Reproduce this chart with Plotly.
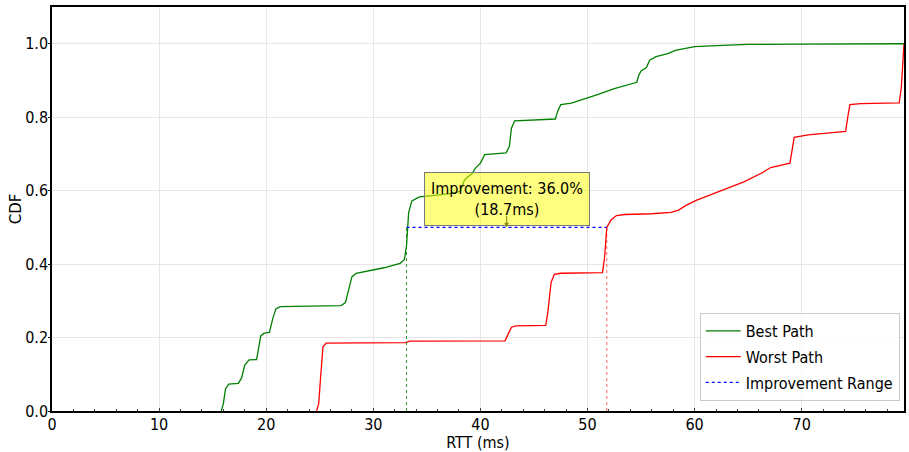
import plotly.graph_objects as go

# ---- data ----
best_x = [15.8, 16.0, 16.2, 16.5, 17.4, 17.7, 18.0, 18.4, 19.1, 19.3, 19.5, 19.8, 20.3, 20.6, 20.9, 21.3,
          24.0, 27.0, 27.4, 27.7, 28.0, 28.4, 29.5, 31.0, 32.5, 32.9, 33.1, 33.3, 33.6, 34.3, 36.0, 37.5,
          38.1, 38.5, 38.8, 39.2, 39.5, 40.0, 40.4, 42.4, 42.7, 42.9, 43.2, 45.0, 47.0, 47.2, 47.5, 48.5,
          49.5, 51.0, 52.5, 54.6, 54.8, 55.0, 55.5, 55.8, 56.4, 57.5, 58.2, 59.0, 60.0, 62.0, 65.0, 70.0, 79.55]
best_y = [0.0, 0.02, 0.06, 0.073, 0.075, 0.09, 0.125, 0.139, 0.14, 0.17, 0.205, 0.212, 0.214, 0.25, 0.278, 0.284,
          0.285, 0.287, 0.295, 0.33, 0.365, 0.375, 0.382, 0.39, 0.402, 0.412, 0.45, 0.54, 0.572, 0.583, 0.588, 0.593,
          0.598, 0.628, 0.637, 0.645, 0.66, 0.675, 0.698, 0.703, 0.72, 0.77, 0.79, 0.792, 0.795, 0.815, 0.834, 0.838,
          0.847, 0.862, 0.878, 0.895, 0.915, 0.926, 0.935, 0.955, 0.965, 0.973, 0.982, 0.987, 0.992, 0.995, 0.998, 0.999, 1.0]

worst_x = [24.7, 24.9, 25.1, 25.3, 25.6, 33.0, 33.4, 42.3, 42.6, 42.9, 43.3, 46.1, 46.3, 46.6, 46.9, 47.5,
           51.4, 51.6, 51.8, 52.2, 52.7, 53.5, 56.0, 57.8, 58.5, 59.2, 60.2, 61.5, 63.0, 64.6, 66.4, 67.1,
           68.9, 69.1, 69.3, 70.6, 74.1, 74.3, 74.5, 75.5, 79.1, 79.3, 79.55]
worst_y = [0.0, 0.02, 0.1, 0.175, 0.185, 0.186, 0.19, 0.191, 0.21, 0.228, 0.232, 0.233, 0.27, 0.35, 0.372, 0.375,
           0.377, 0.42, 0.5, 0.52, 0.532, 0.535, 0.537, 0.541, 0.547, 0.56, 0.574, 0.589, 0.605, 0.624, 0.650, 0.663,
           0.675, 0.71, 0.745, 0.752, 0.761, 0.80, 0.834, 0.837, 0.839, 0.88, 1.0]

best_median = 33.1
worst_median = 51.8
median_level = 0.5
improvement_ms = 18.7
improvement_pct = 36.0

x_ticks = [0, 10, 20, 30, 40, 50, 60, 70]
y_ticks = [0.0, 0.2, 0.4, 0.6, 0.8, 1.0]
y_tick_labels = ["0.0", "0.2", "0.4", "0.6", "0.8", "1.0"]

FONT = "DejaVu Sans Condensed, Liberation Sans Narrow, DejaVu Sans"

fig = go.Figure()
fig.add_trace(go.Scatter(x=best_x, y=best_y, mode="lines", name="Best Path", legendgroup="a",
                         line=dict(color="green", width=1.3)))
fig.add_trace(go.Scatter(x=worst_x, y=worst_y, mode="lines", name="Worst Path", legendgroup="b",
                         line=dict(color="red", width=1.3)))
fig.add_trace(go.Scatter(x=[best_median, worst_median], y=[median_level, median_level], mode="lines",
                         name="Improvement Range", legendgroup="c",
                         line=dict(color="#0000ff", width=1.3, dash="dot")))
fig.add_trace(go.Scatter(x=[best_median, best_median], y=[0, median_level], mode="lines", showlegend=False,
                         line=dict(color="green", width=1, dash="dot"), opacity=0.8))
fig.add_trace(go.Scatter(x=[worst_median, worst_median], y=[0, median_level], mode="lines", showlegend=False,
                         line=dict(color="red", width=1, dash="dot"), opacity=0.6))

mid_x = (best_median + worst_median) / 2
fig.add_annotation(x=mid_x, y=median_level, xref="x", yref="y",
                   text=f"Improvement: {improvement_pct:.1f}%<br>({improvement_ms:.1f}ms)",
                   showarrow=True, ax=0, ay=-28, arrowcolor="rgba(0,0,0,0)",
                   bgcolor="rgba(255,255,0,0.5)", bordercolor="#777777", borderwidth=1, borderpad=6,
                   font=dict(family=FONT, size=16, color="black"), align="center")
fig.add_annotation(x=mid_x, y=median_level, xref="x", yref="y", text="",
                   showarrow=True, ax=0, ay=-13, arrowcolor="#888800", arrowwidth=1,
                   arrowhead=2, arrowsize=0.9)

fig.update_layout(
    width=909, height=452,
    margin=dict(l=52, r=3, t=7, b=41),
    plot_bgcolor="white", paper_bgcolor="white",
    font=dict(family=FONT, size=16, color="black"),
    legend=dict(x=0.995, y=0.025, xanchor="right", yanchor="bottom", traceorder="grouped",
                bgcolor="rgba(255,255,255,0.8)", bordercolor="#cccccc", borderwidth=1,
                font=dict(family=FONT, size=16), tracegroupgap=2, itemwidth=35),
)
fig.update_xaxes(range=[0, 79.55], tickvals=x_ticks, showgrid=True, gridcolor="#e6e6e6", gridwidth=1,
                 showline=True, linecolor="black", linewidth=1.5, mirror=True,
                 ticks="inside", ticklen=3, tickcolor="#444", zeroline=False, ticklabelstandoff=-2,
                 minor=dict(dtick=2, ticks="inside", ticklen=2, tickcolor="#444", showgrid=False),
                 title=dict(text="RTT (ms)", font=dict(family=FONT, size=16), standoff=4),
                 tickfont=dict(family=FONT, size=16))
fig.update_yaxes(range=[0, 1.1], tickvals=y_ticks, ticktext=y_tick_labels, showgrid=True, gridcolor="#e6e6e6",
                 showline=True, linecolor="black", linewidth=1.5, mirror=True,
                 ticks="outside", ticklen=2, tickcolor="black", zeroline=False, ticklabelstandoff=-3,
                 title=dict(text="CDF", font=dict(family="DejaVu Sans", size=15), standoff=0),
                 tickfont=dict(family=FONT, size=16))

fig.write_html("out.html")
